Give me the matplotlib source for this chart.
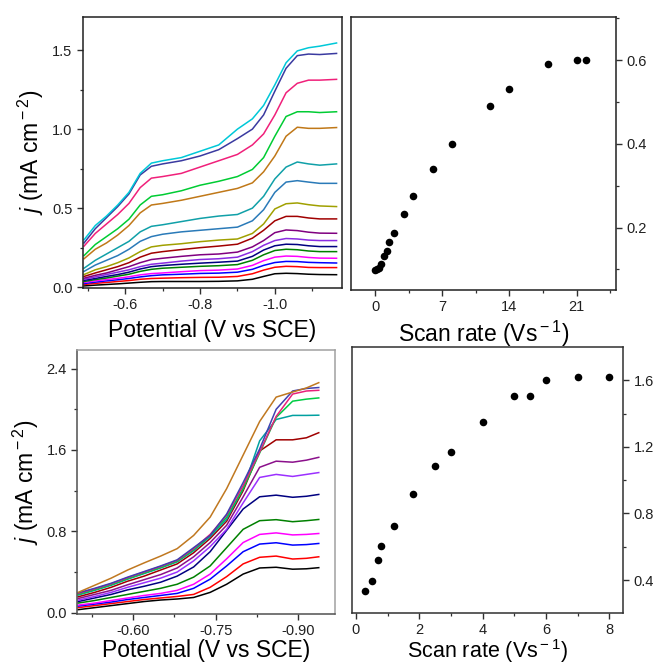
"""
Voltammetry figure: LSV curves at several scan rates (left) and the
limiting current vs. scan rate (right), for two electrodes (top, bottom).
"""

import matplotlib
matplotlib.use('Agg')
import matplotlib.pyplot as plt
from matplotlib.ticker import MultipleLocator, FormatStrFormatter

plt.rcParams['font.family'] = ['Liberation Sans', 'DejaVu Sans']
plt.rcParams['axes.unicode_minus'] = False
plt.rcParams['mathtext.fontset'] = 'custom'
plt.rcParams['mathtext.rm'] = 'Liberation Sans'
plt.rcParams['mathtext.it'] = 'Liberation Sans:italic'

# --- Top row: LSV curves (potential in V vs SCE, j in mA cm-2) ---
E_top = [-0.49, -0.52, -0.55, -0.58, -0.61, -0.64, -0.67, -0.70, -0.75, -0.80,
         -0.85, -0.90, -0.94, -0.97, -1.00, -1.03, -1.06, -1.09, -1.12, -1.165]

# curves listed from lowest to highest
j_top = [
    [0.008, 0.013, 0.017, 0.021, 0.026, 0.031, 0.035, 0.036, 0.036, 0.036,
     0.037, 0.040, 0.050, 0.068, 0.085, 0.088, 0.086, 0.082, 0.080, 0.079],
    [0.017, 0.024, 0.030, 0.036, 0.042, 0.050, 0.055, 0.057, 0.060, 0.062,
     0.063, 0.068, 0.085, 0.108, 0.126, 0.132, 0.130, 0.125, 0.124, 0.124],
    [0.023, 0.032, 0.040, 0.047, 0.055, 0.065, 0.073, 0.078, 0.082, 0.087,
     0.089, 0.095, 0.113, 0.138, 0.156, 0.163, 0.162, 0.157, 0.155, 0.153],
    [0.030, 0.040, 0.048, 0.056, 0.066, 0.078, 0.086, 0.090, 0.098, 0.105,
     0.108, 0.115, 0.138, 0.168, 0.190, 0.197, 0.195, 0.188, 0.184, 0.183],
    [0.036, 0.048, 0.058, 0.070, 0.082, 0.100, 0.113, 0.120, 0.126, 0.132,
     0.136, 0.143, 0.170, 0.205, 0.232, 0.240, 0.237, 0.229, 0.225, 0.225],
    [0.043, 0.055, 0.068, 0.080, 0.095, 0.115, 0.130, 0.137, 0.145, 0.152,
     0.158, 0.165, 0.195, 0.235, 0.262, 0.272, 0.270, 0.262, 0.257, 0.257],
    [0.050, 0.065, 0.080, 0.095, 0.110, 0.130, 0.145, 0.152, 0.165, 0.175,
     0.180, 0.190, 0.225, 0.265, 0.295, 0.308, 0.305, 0.298, 0.295, 0.295],
    [0.057, 0.075, 0.090, 0.110, 0.130, 0.155, 0.175, 0.183, 0.195, 0.205,
     0.210, 0.222, 0.255, 0.295, 0.345, 0.362, 0.358, 0.348, 0.342, 0.341],
    [0.068, 0.090, 0.110, 0.130, 0.155, 0.190, 0.215, 0.225, 0.238, 0.250,
     0.260, 0.272, 0.310, 0.360, 0.420, 0.448, 0.448, 0.438, 0.432, 0.432],
    [0.080, 0.110, 0.130, 0.155, 0.185, 0.225, 0.255, 0.265, 0.275, 0.288,
     0.298, 0.305, 0.340, 0.400, 0.495, 0.528, 0.533, 0.522, 0.514, 0.510],
    [0.100, 0.140, 0.170, 0.200, 0.240, 0.290, 0.320, 0.335, 0.350, 0.360,
     0.370, 0.380, 0.420, 0.490, 0.600, 0.665, 0.674, 0.665, 0.657, 0.657],
    [0.120, 0.170, 0.210, 0.250, 0.290, 0.350, 0.385, 0.395, 0.415, 0.435,
     0.450, 0.460, 0.500, 0.575, 0.685, 0.760, 0.792, 0.780, 0.772, 0.780],
    [0.180, 0.240, 0.280, 0.330, 0.390, 0.470, 0.520, 0.530, 0.550, 0.575,
     0.600, 0.625, 0.660, 0.730, 0.830, 0.955, 1.012, 1.005, 1.005, 1.010],
    [0.200, 0.270, 0.320, 0.370, 0.430, 0.520, 0.575, 0.585, 0.610, 0.645,
     0.670, 0.700, 0.745, 0.820, 0.955, 1.080, 1.110, 1.110, 1.105, 1.110],
    [0.260, 0.340, 0.400, 0.460, 0.530, 0.630, 0.690, 0.700, 0.720, 0.760,
     0.800, 0.840, 0.900, 0.970, 1.090, 1.230, 1.290, 1.310, 1.310, 1.315],
    [0.280, 0.370, 0.440, 0.510, 0.590, 0.710, 0.765, 0.780, 0.800, 0.830,
     0.870, 0.940, 1.000, 1.090, 1.240, 1.385, 1.465, 1.475, 1.472, 1.479],
    [0.300, 0.390, 0.450, 0.520, 0.600, 0.720, 0.785, 0.800, 0.820, 0.860,
     0.900, 1.000, 1.065, 1.150, 1.280, 1.420, 1.495, 1.515, 1.525, 1.545],
]
colors_top = ['#000000', '#ff0000', '#0000ff', '#ff00ff', '#008000', '#000080',
              '#8a2be2', '#800080', '#a00000', '#a0a000', '#2a7ab8', '#10a0a8',
              '#c07818', '#00cc33', '#f0207a', '#3a3aa0', '#00c8d8']

# top row: peak current vs scan rate
rate_top = [0.05, 0.2, 0.4, 0.6, 0.9, 1.2, 1.5, 2, 3, 4, 6, 8, 12, 14, 18, 21, 22]
ip_top = [0.098, 0.102, 0.104, 0.112, 0.131, 0.145, 0.166, 0.188, 0.233, 0.275,
          0.339, 0.400, 0.490, 0.530, 0.591, 0.600, 0.600]

# --- Bottom row ---
E_bot = [-0.50, -0.53, -0.56, -0.59, -0.62, -0.65, -0.68, -0.71, -0.74, -0.77,
         -0.80, -0.83, -0.86, -0.89, -0.915, -0.9375]

j_bot = [
    [0.030, 0.050, 0.070, 0.090, 0.110, 0.125, 0.135, 0.150, 0.200, 0.280,
     0.380, 0.440, 0.447, 0.428, 0.432, 0.443],
    [0.050, 0.070, 0.090, 0.110, 0.130, 0.145, 0.160, 0.180, 0.250, 0.355,
     0.480, 0.545, 0.557, 0.528, 0.535, 0.550],
    [0.065, 0.085, 0.105, 0.130, 0.150, 0.170, 0.190, 0.240, 0.330, 0.460,
     0.600, 0.675, 0.688, 0.665, 0.670, 0.681],
    [0.075, 0.095, 0.120, 0.145, 0.170, 0.190, 0.220, 0.280, 0.380, 0.530,
     0.690, 0.770, 0.785, 0.765, 0.770, 0.779],
    [0.095, 0.120, 0.150, 0.180, 0.210, 0.240, 0.280, 0.350, 0.460, 0.640,
     0.820, 0.905, 0.915, 0.895, 0.905, 0.917],
    [0.110, 0.145, 0.180, 0.225, 0.260, 0.300, 0.360, 0.450, 0.600, 0.810,
     1.020, 1.140, 1.156, 1.135, 1.145, 1.163],
    [0.124, 0.160, 0.200, 0.250, 0.295, 0.340, 0.400, 0.510, 0.650, 0.820,
     1.080, 1.330, 1.360, 1.340, 1.360, 1.378],
    [0.140, 0.180, 0.220, 0.275, 0.325, 0.375, 0.440, 0.550, 0.690, 0.860,
     1.140, 1.430, 1.490, 1.480, 1.500, 1.528],
    [0.157, 0.200, 0.250, 0.310, 0.360, 0.420, 0.480, 0.590, 0.730, 0.900,
     1.200, 1.590, 1.700, 1.700, 1.720, 1.770],
    [0.174, 0.220, 0.270, 0.330, 0.385, 0.440, 0.500, 0.610, 0.750, 0.920,
     1.220, 1.690, 1.900, 1.940, 1.940, 1.942],
    [0.180, 0.225, 0.275, 0.335, 0.390, 0.445, 0.505, 0.620, 0.760, 0.940,
     1.220, 1.570, 1.920, 2.080, 2.100, 2.112],
    [0.190, 0.235, 0.285, 0.345, 0.400, 0.455, 0.515, 0.630, 0.770, 0.960,
     1.250, 1.580, 1.930, 2.150, 2.180, 2.187],
    [0.195, 0.240, 0.290, 0.350, 0.405, 0.460, 0.520, 0.640, 0.760, 0.970,
     1.280, 1.610, 2.000, 2.180, 2.205, 2.214],
    [0.200, 0.270, 0.340, 0.420, 0.490, 0.557, 0.630, 0.760, 0.940, 1.220,
     1.550, 1.880, 2.120, 2.170, 2.210, 2.262],
]
colors_bot = ['#000000', '#ff0000', '#0000ff', '#ff00ff', '#008000', '#000080',
              '#9b30ff', '#8b108b', '#a00000', '#00a0a0', '#00cc44', '#e8207a',
              '#4040b0', '#c07820']

rate_bot = [0.3, 0.5, 0.7, 0.8, 1.2, 1.8, 2.5, 3, 4, 5, 5.5, 6, 7, 8]
ip_bot = [0.334, 0.396, 0.518, 0.602, 0.724, 0.914, 1.084, 1.168, 1.348, 1.508,
          1.508, 1.604, 1.620, 1.620]

TICK_FS = 10.5
LABEL_FS = 16.5
J_LABEL = r'$j$ (mA cm$^{\rm -2}$)'


def style_axes(ax, spine_color='#303030'):
    for sp in ax.spines.values():
        sp.set_color(spine_color)
        sp.set_linewidth(1.1)
    ax.tick_params(which='both', direction='out', colors='#303030',
                   labelsize=TICK_FS, labelcolor='#202020')
    ax.tick_params(which='major', length=4, width=1.0)
    ax.tick_params(which='minor', length=2.5, width=0.9)


def draw_lsv(ax, E, curves, colors, xpad):
    for j, c in zip(curves, colors):
        ax.plot(E, j, color=c, lw=1.1)
    ax.set_ylabel(J_LABEL, fontsize=LABEL_FS, labelpad=4)
    ax.set_xlabel('Potential (V vs SCE)', fontsize=LABEL_FS, labelpad=xpad)


def draw_rate(ax, rate, ip, xpad, fs=LABEL_FS):
    ax.scatter(rate, ip, s=30, color='black', zorder=3, linewidths=0)
    ax.yaxis.tick_right()
    ax.set_xlabel('Scan rate (Vs$^{\\rm -1}$)', fontsize=fs, labelpad=xpad)


def pin_xlabel_bottom(ax, fig, bottom_px):
    """Put the bottom of the x label a fixed number of pixels above the figure edge."""
    pos = ax.get_position()
    fig_h = fig.get_size_inches()[1] * fig.dpi
    y = (bottom_px / fig_h - pos.y0) / pos.height
    ax.xaxis.label.set_verticalalignment('bottom')
    ax.xaxis.set_label_coords(0.5, y)


fig = plt.figure(figsize=(6.53, 6.66), dpi=100)

# top left
ax1 = fig.add_axes([0.127, 0.5676, 0.397, 0.407])
draw_lsv(ax1, E_top, j_top, colors_top, xpad=5)
ax1.set_xlim(-0.487, -1.18)
ax1.set_ylim(-0.005, 1.71)
ax1.xaxis.set_major_locator(MultipleLocator(0.2))
ax1.xaxis.set_minor_locator(MultipleLocator(0.1))
ax1.xaxis.set_major_formatter(FormatStrFormatter('%.1f'))
ax1.yaxis.set_major_locator(MultipleLocator(0.5))
ax1.yaxis.set_minor_locator(MultipleLocator(0.25))
ax1.yaxis.set_major_formatter(FormatStrFormatter('%.1f'))
style_axes(ax1, '#202020')

# top right
ax2 = fig.add_axes([0.5375, 0.5646, 0.406, 0.41])
draw_rate(ax2, rate_top, ip_top, xpad=3)
ax2.set_xlim(-2.5, 25.1)
ax2.set_ylim(0.051, 0.703)
ax2.xaxis.set_major_locator(MultipleLocator(7))
ax2.xaxis.set_minor_locator(MultipleLocator(3.5))
ax2.yaxis.set_major_locator(MultipleLocator(0.2))
ax2.yaxis.set_minor_locator(MultipleLocator(0.1))
ax2.yaxis.set_major_formatter(FormatStrFormatter('%.1f'))
style_axes(ax2, '#202020')

# bottom left
ax3 = fig.add_axes([0.118, 0.078, 0.395, 0.396])
draw_lsv(ax3, E_bot, j_bot, colors_bot, xpad=0.5)
ax3.set_xlim(-0.498, -0.967)
ax3.set_ylim(-0.013, 2.58)
ax3.xaxis.set_major_locator(MultipleLocator(0.15))
ax3.xaxis.set_minor_locator(MultipleLocator(0.075))
ax3.xaxis.set_major_formatter(FormatStrFormatter('%.2f'))
ax3.yaxis.set_major_locator(MultipleLocator(0.8))
ax3.yaxis.set_minor_locator(MultipleLocator(0.4))
ax3.yaxis.set_major_formatter(FormatStrFormatter('%.1f'))
style_axes(ax3, '#505050')
ax3.spines['top'].set_color('#a0a0a0')
ax3.spines['right'].set_color('#a0a0a0')
pin_xlabel_bottom(ax3, fig, 4)

# bottom right
ax4 = fig.add_axes([0.539, 0.0796, 0.415, 0.399])
draw_rate(ax4, rate_bot, ip_bot, xpad=0, fs=15.5)
ax4.set_xlim(-0.126, 8.43)
ax4.set_ylim(0.202, 1.798)
ax4.xaxis.set_major_locator(MultipleLocator(2))
ax4.xaxis.set_minor_locator(MultipleLocator(1))
ax4.yaxis.set_major_locator(MultipleLocator(0.4))
ax4.yaxis.set_minor_locator(MultipleLocator(0.2))
ax4.yaxis.set_major_formatter(FormatStrFormatter('%.1f'))
style_axes(ax4, '#303030')
pin_xlabel_bottom(ax4, fig, 1)

fig.savefig('out.png', dpi=100)
plt.close(fig)
